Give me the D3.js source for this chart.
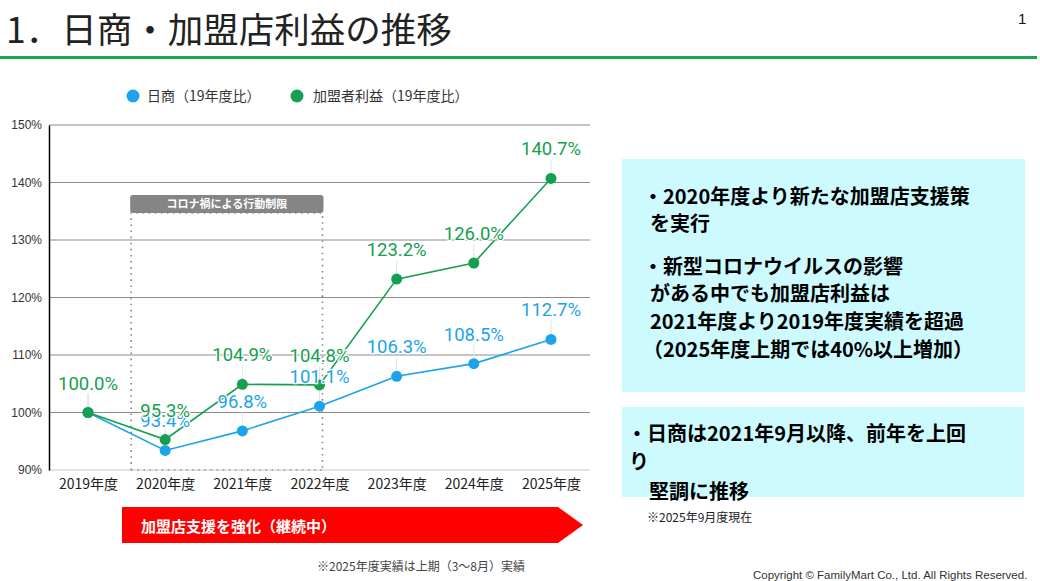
<html>
<head>
<meta charset="utf-8">
<style>
  body { margin: 0; background: #fff; }
  svg text { font-family: "Noto Sans CJK JP", sans-serif; }
</style>
</head>
<body>
<script src="https://d3js.org/d3.v7.min.js"></script>
<div id="chart"></div>
<script>
// data
const years = ["2019年度", "2020年度", "2021年度", "2022年度", "2023年度", "2024年度", "2025年度"];
const sales = [100.0, 93.4, 96.8, 101.1, 106.3, 108.5, 112.7];     // 日商（19年度比）
const profit = [100.0, 95.3, 104.9, 104.8, 123.2, 126.0, 140.7];   // 加盟者利益（19年度比）
const yTicks = [90, 100, 110, 120, 130, 140, 150];
const seriesNames = ["日商（19年度比）", "加盟者利益（19年度比）"];
const box1Lines = [
  ["・2020年度より新たな加盟店支援策", 643],
  ["を実行", 650],
  ["・新型コロナウイルスの影響", 643],
  ["がある中でも加盟店利益は", 650],
  ["2021年度より2019年度実績を超過", 650],
  ["（2025年度上期では40%以上増加）", 643]
];
const box2Lines = [
  ["・日商は2021年9月以降、前年を上回", 627],
  ["り", 629],
  ["堅調に推移", 649]
];

const blue = "#1ba4ea", green = "#14a04f";
const W = 1040, H = 581;

const svg = d3.select("#chart").append("svg")
  .attr("width", W).attr("height", H);

// title + rule
svg.append("text").attr("x", 6).attr("y", 43)
  .attr("font-size", 35.5).attr("fill", "#222")
  .text("1．日商・加盟店利益の推移");
svg.append("text").attr("x", 1018).attr("y", 24)
  .attr("font-size", 15).attr("fill", "#111")
  .style("font-family", "Liberation Sans, Arial")
  .text("1");
svg.append("rect").attr("x", 0).attr("y", 56).attr("width", 1037).attr("height", 3)
  .attr("fill", "#1aa653");

// scales
const x = d3.scalePoint().domain(years).range([88, 551]);
const y = d3.scaleLinear().domain([90, 150]).range([470, 125]);
const plotL = 49, plotR = 590;

// gridlines
svg.selectAll(".grid").data(yTicks).enter().append("line")
  .attr("x1", plotL).attr("x2", plotR)
  .attr("y1", d => y(d)).attr("y2", d => y(d))
  .attr("stroke", d => d === 90 ? "#c8c8c8" : "#8c8c8c")
  .attr("stroke-width", 1.2);

// y axis
const yAxis = svg.append("g").attr("transform", `translate(${plotL},0)`)
  .call(d3.axisLeft(y).tickValues(yTicks).tickSize(0).tickPadding(7).tickFormat(d => d + "%"));
yAxis.select(".domain").attr("stroke", "#000").attr("stroke-width", 1.5);
yAxis.selectAll("text").attr("font-size", 12).attr("fill", "#333")
  .style("font-family", "Liberation Sans, Arial");

// x axis labels
const xAxis = svg.append("g").attr("transform", "translate(0,470)")
  .call(d3.axisBottom(x).tickSize(0).tickPadding(9));
xAxis.select(".domain").remove();
xAxis.selectAll("text").attr("font-size", 14).attr("fill", "#222");

// covid restriction box
const bx0 = x(years[1]) - 34, bx1 = x(years[3]) + 3;
svg.append("path")
  .attr("d", `M${bx0},470 V213 H${bx1} V470`)
  .attr("fill", "none").attr("stroke", "#888").attr("stroke-width", 1.6)
  .attr("stroke-dasharray", "1.6,4.5");
svg.append("line").attr("x1", bx0).attr("x2", bx1).attr("y1", 470).attr("y2", 470)
  .attr("stroke", "#999").attr("stroke-width", 1.6).attr("stroke-dasharray", "1.6,4.5");
svg.append("rect").attr("x", bx0 - 1).attr("y", 195).attr("width", bx1 - bx0 + 2).attr("height", 18)
  .attr("rx", 3).attr("fill", "#858585");
svg.append("text").attr("x", (bx0 + bx1) / 2).attr("y", 208)
  .attr("text-anchor", "middle").attr("font-size", 11).attr("font-weight", "bold")
  .attr("fill", "#fff").text("コロナ禍による行動制限");

// legend
[[blue, 133, 147], [green, 297, 313]].forEach((l, i) => {
  svg.append("circle").attr("cx", l[1]).attr("cy", 96).attr("r", 6.5).attr("fill", l[0]);
  svg.append("text").attr("x", l[2]).attr("y", 101).attr("font-size", 14).attr("fill", "#333")
    .text(seriesNames[i]);
});

// series
const line = d3.line().x((d, i) => x(years[i])).y(d => y(d));
function drawSeries(vals, color) {
  const g = svg.append("g");
  g.selectAll(".lead").data(vals).enter().append("line")
    .attr("x1", (d, i) => x(years[i])).attr("x2", (d, i) => x(years[i]))
    .attr("y1", d => y(d) - 19).attr("y2", d => y(d))
    .attr("stroke", "#e2e2e2").attr("stroke-width", 1);
  g.append("path").datum(vals).attr("d", line)
    .attr("fill", "none").attr("stroke", color).attr("stroke-width", 1.6);
  g.selectAll("circle").data(vals).enter().append("circle")
    .attr("cx", (d, i) => x(years[i])).attr("cy", d => y(d))
    .attr("r", 5.5).attr("fill", color);
  return g;
}
const gS = drawSeries(sales, blue);
const gP = drawSeries(profit, green);

function drawLabels(vals, color) {
  svg.append("g").selectAll("text").data(vals).enter().append("text")
    .attr("x", (d, i) => x(years[i])).attr("y", d => y(d) - 23)
    .attr("text-anchor", "middle").attr("font-size", 18.5)
    .style("font-family", "Roboto, sans-serif")
    .attr("fill", color).attr("stroke", "#fff").attr("stroke-width", 2.5)
    .attr("paint-order", "stroke")
    .text(d => d.toFixed(1) + "%");
}
drawLabels(sales, blue);
drawLabels(profit, green);

// right text boxes
svg.append("rect").attr("x", 622).attr("y", 159).attr("width", 403).attr("height", 233).attr("fill", "#ccfaff");
svg.append("rect").attr("x", 622).attr("y", 407).attr("width", 402).attr("height", 90).attr("fill", "#ccfaff");
const b1y = [204, 231, 274, 301, 329, 357];
box1Lines.forEach((l, i) => {
  svg.append("text").attr("x", l[1]).attr("y", b1y[i]).attr("font-size", 20)
    .attr("font-weight", "bold").attr("fill", "#000").text(l[0]);
});
const b2y = [441, 469, 499];
box2Lines.forEach((l, i) => {
  svg.append("text").attr("x", l[1]).attr("y", b2y[i]).attr("font-size", 20)
    .attr("font-weight", "bold").attr("fill", "#000").text(l[0]);
});
svg.append("text").attr("x", 647).attr("y", 522).attr("font-size", 12).attr("fill", "#222")
  .text("※2025年9月度現在");

// red arrow
svg.append("path").attr("d", "M122,507 H558 L583,525 L558,543 H122 Z").attr("fill", "#ff0000");
svg.append("text").attr("x", 141).attr("y", 532).attr("font-size", 15).attr("font-weight", "bold")
  .attr("fill", "#fff").text("加盟店支援を強化（継続中）");

// footnotes
svg.append("text").attr("x", 317).attr("y", 571).attr("font-size", 12).attr("fill", "#444")
  .text("※2025年度実績は上期（3〜8月）実績");
svg.append("text").attr("x", 753).attr("y", 579).attr("font-size", 11.5).attr("fill", "#333")
  .style("font-family", "Liberation Sans, Arial")
  .text("Copyright © FamilyMart Co., Ltd. All Rights Reserved.");
</script>
</body>
</html>
